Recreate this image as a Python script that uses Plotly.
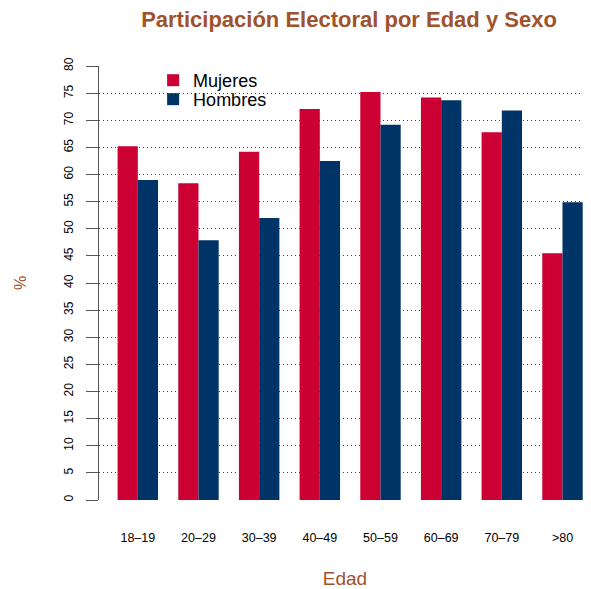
import plotly.graph_objects as go

categories = ["18–19", "20–29", "30–39", "40–49", "50–59", "60–69", "70–79", ">80"]
mujeres = [65.2, 58.4, 64.2, 72.1, 75.2, 74.2, 67.8, 45.5]
hombres = [59.0, 47.9, 52.0, 62.5, 69.2, 73.7, 71.8, 54.9]
y_ticks = list(range(0, 81, 5))

RED = "#CC0033"
BLUE = "#003366"
BROWN = "#A0522D"
FONT = "Liberation Sans, Arial, sans-serif"

# page body adds an 8px offset; compensate
W, H = 583, 581

fig = go.Figure()
fig.add_trace(go.Bar(x=categories, y=mujeres, name="Mujeres", legend="legend",
                     marker=dict(color=RED, line=dict(width=0))))
fig.add_trace(go.Bar(x=categories, y=hombres, name="Hombres", legend="legend2",
                     marker=dict(color=BLUE, line=dict(width=0))))

leg_common = dict(xanchor="left", yanchor="top", font=dict(size=18, color="black"),
                  bgcolor="rgba(0,0,0,0)", itemwidth=30)
fig.update_layout(
    width=W, height=H,
    margin=dict(l=91, r=0, t=58, b=89),
    plot_bgcolor="white", paper_bgcolor="white",
    barmode="group", bargap=1/3, bargroupgap=0,
    font=dict(family=FONT, color="black"),
    title=dict(text="<b>Participación Electoral por Edad y Sexo</b>",
               font=dict(size=22, color=BROWN, family=FONT),
               x=341/W, xanchor="center", y=1-11/H, yanchor="middle"),
    legend=dict(x=0.110, y=1.0092, **leg_common),
    legend2=dict(x=0.110, y=0.9655, **leg_common),
    showlegend=True,
)
fig.update_xaxes(
    type="category", range=[-0.64, 7.47], showline=False, showgrid=False,
    ticks="", tickfont=dict(size=12.5, color="black"), ticklabelstandoff=28,
    title=dict(text="Edad", font=dict(size=19, color=BROWN), standoff=28),
)
fig.update_yaxes(
    range=[0, 80.01], tickvals=y_ticks, ticktext=[str(v) for v in y_ticks],
    tickangle=-90, tickfont=dict(size=12, color="black"),
    ticks="outside", ticklen=12, tickcolor="#555555", tickwidth=1.2,
    ticklabelstandoff=8,
    showline=True, linecolor="#555555", linewidth=1.2,
    showgrid=True, gridcolor="#444444", griddash="1px,3px", gridwidth=1,
    zeroline=False,
    title=dict(text="%", font=dict(size=16, color=BROWN), standoff=31),
)

fig.write_html("out.html")
